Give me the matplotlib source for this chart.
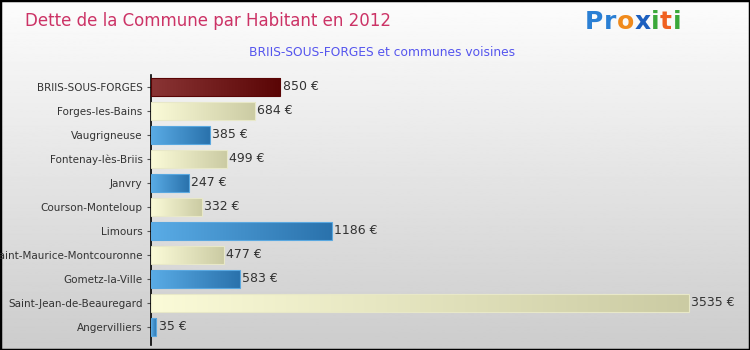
import numpy as np
import matplotlib.pyplot as plt
from matplotlib.colors import LinearSegmentedColormap

communes = ["BRIIS-SOUS-FORGES", "Forges-les-Bains", "Vaugrigneuse", "Fontenay-lès-Briis",
            "Janvry", "Courson-Monteloup", "Limours", "Saint-Maurice-Montcouronne",
            "Gometz-la-Ville", "Saint-Jean-de-Beauregard", "Angervilliers"]
dette = [850, 684, 385, 499, 247, 332, 1186, 477, 583, 3535, 35]
kind = ["main", "cream", "blue", "cream", "blue", "cream", "blue", "cream", "blue", "cream", "blue"]

cmaps = {
    "main": LinearSegmentedColormap.from_list("m", ["#8a3535", "#5a0505"]),
    "blue": LinearSegmentedColormap.from_list("b", ["#5aace6", "#2a72ac"]),
    "cream": LinearSegmentedColormap.from_list("c", ["#fbfbd8", "#cbcba3"]),
}
edges = {"main": "#5a0505", "blue": "#5aa8e0", "cream": "#e8e8c8"}

fig = plt.figure(figsize=(7.5, 3.5), dpi=100)

# background gradient
bg = fig.add_axes([0, 0, 1, 1], zorder=0)
grad = np.linspace(0.99, 0.80, 256).reshape(-1, 1)
bg.imshow(grad, aspect="auto", cmap="gray", vmin=0, vmax=1, extent=[0, 1, 0, 1])
bg.set_axis_off()
bg.add_patch(plt.Rectangle((0, 0), 1, 1, transform=bg.transAxes, fill=False,
                           ec="black", lw=2.5))

ax = fig.add_axes([151 / 750, 5 / 350, 589 / 750, 270 / 350], zorder=1)
ax.patch.set_alpha(0)
y = np.arange(len(communes))
bars = ax.barh(y, dette, height=0.75, color="none", edgecolor="none")
xgrad = np.linspace(0, 1, 256).reshape(1, -1)
for b, k, v in zip(bars, kind, dette):
    x0, y0, w, h = b.get_x(), b.get_y(), b.get_width(), b.get_height()
    ax.imshow(xgrad, aspect="auto", cmap=cmaps[k], extent=[x0, x0 + w, y0 + h, y0], zorder=2)
    ax.add_patch(plt.Rectangle((x0, y0), w, h, fill=False, ec=edges[k], lw=0.8, zorder=3))
    ax.text(v + 15, b.get_y() + h / 2, f"{v} €", va="center", ha="left",
            fontsize=9, color="#333333", zorder=4)

ax.set_xlim(0, 3870)
ax.set_ylim(10.75, -0.5)
ax.set_yticks(y)
ax.set_yticklabels(communes, fontsize=7.5, color="#333333")
ax.tick_params(axis="y", length=3, color="#555555", pad=3)
ax.set_xticks([])
for s in ["top", "right", "bottom"]:
    ax.spines[s].set_visible(False)
ax.spines["left"].set_color("black")
ax.spines["left"].set_linewidth(1.2)

fig.text(25 / 750, 1 - 21 / 350, "Dette de la Commune par Habitant en 2012",
         fontsize=12, color="#cc3366", va="center", ha="left")
fig.text(382 / 750, 1 - 53 / 350, "BRIIS-SOUS-FORGES et communes voisines",
         fontsize=8.8, color="#5555ee", va="center", ha="center")

# logo, letters placed one after another
logo = [("P", "#2a7fd4"), ("r", "#2a7fd4"), ("o", "#f08a1c"), ("x", "#1c5fbf"),
        ("i", "#3aa83a"), ("t", "#f06020"), ("i", "#3aa83a")]
renderer = fig.canvas.get_renderer()
lx = 585 / 750
for ch, c in logo:
    t = fig.text(lx, 1 - 22 / 350, ch, fontsize=18, color=c, fontweight="bold",
                 va="center", ha="left")
    bb = t.get_window_extent(renderer)
    lx = (bb.x1 + 0.5) / 750

fig.savefig("out.png", dpi=100)
